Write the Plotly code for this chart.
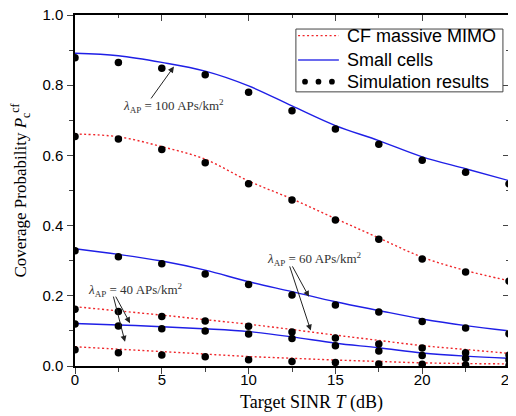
import plotly.graph_objects as go

snr_db = [0, 2.5, 5, 7.5, 10, 12.5, 15, 17.5, 20, 22.5, 25]
x_ticks = [0, 5, 10, 15, 20, 25]
y_ticks = [0.0, 0.2, 0.4, 0.6, 0.8, 1.0]
y_tick_labels = ["0.0", "0.2", "0.4", "0.6", "0.8", "1.0"]

sc100_curve = [0.891, 0.884, 0.865, 0.840, 0.798, 0.741, 0.685, 0.642, 0.596, 0.562, 0.528]
sc100_sim = [0.878, 0.865, 0.848, 0.830, 0.780, 0.727, 0.675, 0.632, 0.586, 0.552, 0.519]
cf100_curve = [0.661, 0.653, 0.625, 0.589, 0.527, 0.476, 0.420, 0.365, 0.310, 0.272, 0.243]
cf100_sim = [0.654, 0.647, 0.617, 0.579, 0.519, 0.473, 0.416, 0.361, 0.305, 0.268, 0.242]

sc60_curve = [0.334, 0.318, 0.299, 0.273, 0.240, 0.212, 0.183, 0.158, 0.134, 0.115, 0.100]
sc60_sim = [0.328, 0.311, 0.291, 0.262, 0.232, 0.202, 0.174, 0.154, 0.127, 0.108, 0.092]
cf60_curve = [0.169, 0.157, 0.145, 0.132, 0.119, 0.104, 0.088, 0.073, 0.058, 0.047, 0.036]
cf60_sim = [0.162, 0.155, 0.141, 0.128, 0.113, 0.097, 0.080, 0.063, 0.051, 0.038, 0.031]

sc40_curve = [0.121, 0.117, 0.112, 0.106, 0.098, 0.083, 0.065, 0.052, 0.037, 0.028, 0.022]
sc40_sim = [0.120, 0.114, 0.106, 0.100, 0.091, 0.078, 0.058, 0.043, 0.030, 0.022, 0.017]
cf40_curve = [0.055, 0.048, 0.041, 0.034, 0.027, 0.022, 0.017, 0.013, 0.009, 0.007, 0.006]
cf40_sim = [0.046, 0.038, 0.031, 0.026, 0.018, 0.013, 0.010, 0.006, 0.005, 0.003, 0.002]

legend_names = ["CF massive MIMO", "Small cells", "Simulation results"]

RED = "#f0262a"
BLUE = "#1f1fe6"
DOTTED = "2px,2.5px"

fig = go.Figure()

cf_curves = [cf100_curve, cf60_curve, cf40_curve]
sc_curves = [sc100_curve, sc60_curve, sc40_curve]
sims = [sc100_sim, cf100_sim, sc60_sim, cf60_sim, sc40_sim, cf40_sim]

for c in cf_curves:
    fig.add_trace(go.Scatter(x=snr_db, y=c, mode="lines", line=dict(color=RED, width=1.4, dash=DOTTED, shape="spline"),
                             name=legend_names[0], showlegend=False))
for c in sc_curves:
    fig.add_trace(go.Scatter(x=snr_db, y=c, mode="lines", line=dict(color=BLUE, width=1.4, shape="spline"),
                             name=legend_names[1], showlegend=False))
for s in sims:
    fig.add_trace(go.Scatter(x=snr_db, y=s, mode="markers", marker=dict(color="black", size=7.5),
                             name=legend_names[2], showlegend=False))

# invisible trace for mirrored axes
fig.add_trace(go.Scatter(x=[0], y=[0], xaxis="x2", yaxis="y2", mode="markers",
                         marker=dict(opacity=0), showlegend=False, hoverinfo="skip"))

serif = "Liberation Serif, DejaVu Serif, serif"
sans = "Liberation Sans, Arial, sans-serif"

# page body has an 8px default margin, so the figure is 8px smaller and margins shifted
fig.update_layout(
    width=508, height=408,
    margin=dict(l=67, r=7, t=7, b=50, autoexpand=False),
    paper_bgcolor="white", plot_bgcolor="white",
    showlegend=False,
    xaxis=dict(range=[0, 25], tickmode="array", tickvals=x_ticks, ticks="outside", ticklen=6, tickwidth=1.2,
               automargin=False, ticklabeloverflow="allow", ticklabelstandoff=-7,
               showline=True, linecolor="black", linewidth=1.5, mirror=True, showgrid=False, zeroline=False,
               tickfont=dict(family=sans, size=15, color="black"),
               minor=dict(dtick=2.5, tick0=0, ticks="outside", ticklen=4, tickwidth=1)),
    yaxis=dict(range=[0, 1.0], tickmode="array", tickvals=y_ticks, ticktext=y_tick_labels,
               ticks="outside", ticklen=6, tickwidth=1.2,
               automargin=False, ticklabeloverflow="allow", ticklabelstandoff=1,
               showline=True, linecolor="black", linewidth=1.5, mirror=True, showgrid=False, zeroline=False,
               tickfont=dict(family=sans, size=15, color="black"),
               minor=dict(dtick=0.1, tick0=0, ticks="outside", ticklen=4, tickwidth=1),
               title=dict(text="Coverage Probability <i>P</i><sub>c</sub><sup>cf</sup>",
                          font=dict(family=serif, size=17, color="black"), standoff=11)),
    xaxis2=dict(range=[0, 25], overlaying="x", side="top", tickmode="array", tickvals=x_ticks,
                ticks="inside", ticklen=6, tickwidth=1.2,
                showticklabels=False, showgrid=False, zeroline=False, showline=False, automargin=False,
                minor=dict(dtick=2.5, tick0=0, ticks="inside", ticklen=3, tickwidth=1)),
    yaxis2=dict(range=[0, 1.0], overlaying="y", side="right", tickmode="array", tickvals=y_ticks,
                ticks="inside", ticklen=6, tickwidth=1.2,
                showticklabels=False, showgrid=False, zeroline=False, showline=False, automargin=False,
                minor=dict(dtick=0.1, tick0=0, ticks="inside", ticklen=3, tickwidth=1)),
)

# x-axis title (slightly right of centre as in the reference)
fig.add_annotation(xref="paper", yref="paper", x=0.546, y=-0.105, yanchor="middle", xanchor="center",
                   text="Target SINR <i>T</i> (dB)", showarrow=False,
                   font=dict(family=serif, size=18, color="black"))

# custom legend (paper coordinates)
leg_x0, leg_x1, leg_y0, leg_y1 = 0.509, 0.986, 0.781, 0.960
fig.add_shape(type="rect", xref="paper", yref="paper", x0=leg_x0, x1=leg_x1, y0=leg_y0, y1=leg_y1,
              line=dict(color="#444", width=1), fillcolor="white", layer="above")
row_y = [0.941, 0.872, 0.810]
sym_x0, sym_x1, txt_x = 0.514, 0.608, 0.622
fig.add_shape(type="line", xref="paper", yref="paper", x0=sym_x0, x1=sym_x1, y0=row_y[0], y1=row_y[0],
              line=dict(color=RED, width=1.3, dash=DOTTED), layer="above")
fig.add_shape(type="line", xref="paper", yref="paper", x0=sym_x0, x1=sym_x1, y0=row_y[1], y1=row_y[1],
              line=dict(color="#6a6aee", width=2), layer="above")
for dx in [0.530, 0.561, 0.592]:
    fig.add_shape(type="circle", xref="paper", yref="paper", x0=dx - 0.0066, x1=dx + 0.0066,
                  y0=row_y[2] - 0.0082, y1=row_y[2] + 0.0082, line=dict(width=0), fillcolor="black", layer="above")
for name, ry in zip(legend_names, row_y):
    fig.add_annotation(xref="paper", yref="paper", x=txt_x, y=ry, text=name, showarrow=False,
                       xanchor="left", yanchor="middle", font=dict(family=sans, size=18, color="black"))

ann_font = dict(family=serif, size=13, color="#333")
fig.add_annotation(x=5.65, y=0.741, text="<i>λ</i><sub>AP</sub> = 100 APs/km<sup>2</sup>", showarrow=False, font=ann_font)
fig.add_annotation(x=13.77, y=0.304, text="<i>λ</i><sub>AP</sub> = 60 APs/km<sup>2</sup>", showarrow=False, font=ann_font)
fig.add_annotation(x=3.5, y=0.217, text="<i>λ</i><sub>AP</sub> = 40 APs/km<sup>2</sup>", showarrow=False, font=ann_font)

arrows = [
    (4.32, 0.758, 5.70, 0.853),
    (12.48, 0.288, 13.48, 0.197),
    (12.34, 0.288, 13.58, 0.101),
    (2.30, 0.202, 3.17, 0.122),
    (2.19, 0.202, 2.88, 0.069),
]
for ax_, ay_, x_, y_ in arrows:
    fig.add_annotation(x=x_, y=y_, ax=ax_, ay=ay_, axref="x", ayref="y", xref="x", yref="y",
                       text="", showarrow=True, arrowhead=2, arrowsize=1.2, arrowwidth=1, arrowcolor="#222")

fig.write_html("out.html")
